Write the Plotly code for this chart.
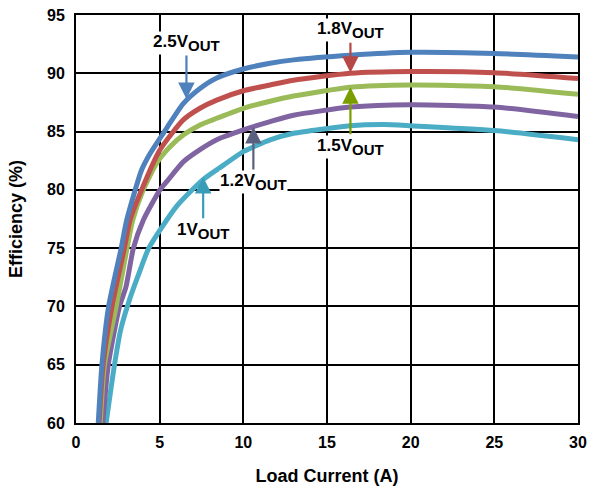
import plotly.graph_objects as go

# ---- data ----
x_25 = [1.33, 1.55, 1.95, 2.7, 3.03, 3.92, 4.42, 5.42, 6.41, 7.41, 8.41, 10, 11.6, 13, 16.4, 20, 25, 30]
y_25 = [60, 65, 70, 75, 77.4, 81.7, 83.1, 85.3, 87.4, 88.7, 89.6, 90.37, 90.86, 91.15, 91.55, 91.8, 91.7, 91.4]

x_18 = [1.38, 1.62, 2.15, 2.89, 3.23, 3.92, 5.0, 6.41, 7.41, 8.41, 10, 11.6, 13, 16.4, 20, 25, 30]
y_18 = [60, 65, 70, 75, 77.4, 80.0, 83.4, 86.0, 87.0, 87.7, 88.5, 89.0, 89.4, 90.0, 90.15, 90.05, 89.55]

x_15 = [1.45, 1.7, 2.4, 3.05, 3.39, 4.02, 4.82, 5.62, 6.41, 7.41, 8.41, 10, 11.6, 13, 16.4, 20, 25, 30]
y_15 = [60, 65, 70, 75, 77.4, 80.0, 82.3, 83.7, 84.7, 85.57, 86.14, 87.0, 87.6, 88.05, 88.8, 89.0, 88.85, 88.2]

x_12 = [1.6, 1.93, 2.6, 2.99, 3.43, 4.02, 5.02, 5.42, 6.41, 7.41, 8.41, 10, 11.6, 13, 16.4, 20, 25, 30]
y_12 = [60, 65, 70, 71.7, 75, 77.4, 80.0, 80.7, 82.4, 83.45, 84.3, 85.14, 85.85, 86.4, 87.1, 87.3, 87.1, 86.3]

x_10 = [1.8, 2.3, 2.67, 3.2, 3.83, 4.35, 6.02, 7.61, 8.8, 10, 11.6, 13, 16.4, 18.4, 20, 25, 30]
y_10 = [60, 65, 68.0, 70.6, 73.1, 75, 78.6, 80.9, 82.1, 83.28, 84.28, 84.85, 85.5, 85.6, 85.5, 85.1, 84.3]

x_ticks = [0, 5, 10, 15, 20, 25, 30]
y_ticks = [60, 65, 70, 75, 80, 85, 90, 95]

series = [
    ("1V", x_10, y_10, "#4bacc6"),
    ("1.2V", x_12, y_12, "#8064a2"),
    ("1.5V", x_15, y_15, "#9bbb59"),
    ("1.8V", x_18, y_18, "#c0504d"),
    ("2.5V", x_25, y_25, "#4f81bd"),
]

fig = go.Figure()
for name, xs, ys, col in series:
    fig.add_trace(go.Scatter(x=xs, y=ys, mode="lines", name=name,
                             line=dict(color=col, width=5, shape="spline", smoothing=0.6),
                             showlegend=False, hoverinfo="skip"))

FONT = "Liberation Sans, Arial, sans-serif"

def label(txt):
    return "<b>" + txt + "V<sub><span style='font-size:15px'>OUT</span></sub></b>"

# label text, arrow x, arrow head y, label centre y, arrow colour
callouts = [
    ("2.5", 6.6, 87.8, 92.6, "#4f81bd"),
    ("1.8", 16.4, 90.05, 93.7, "#b54846"),
    ("1.5", 16.4, 88.8, 83.7, "#7a9e00"),
    ("1.2", 10.6, 85.4, 80.68, "#5a5f80"),
    ("1", 7.6, 81.1, 76.5, "#3a9db8"),
]
for t, xa, hy, ly, col in callouts:
    fig.add_annotation(x=xa, y=hy, ax=xa, ay=ly, xref="x", yref="y",
                       axref="x", ayref="y", text=label(t), showarrow=True,
                       arrowhead=2, arrowsize=1.5, arrowwidth=2.2,
                       arrowcolor=col, standoff=0, startstandoff=1,
                       bgcolor="white", borderpad=0,
                       font=dict(family=FONT, size=17, color="black"))

axis_common = dict(showgrid=True, gridcolor="black", gridwidth=2,
                   showline=True, linecolor="black", linewidth=2, mirror=True,
                   zeroline=False, ticks="", automargin=False,
                   tickfont=dict(family=FONT, size=16, color="black"))

fig.update_xaxes(range=[0, 30], tickvals=x_ticks, ticktext=["<b>%d</b>" % v for v in x_ticks],
                 title=dict(text="<b>Load Current (A)</b>", font=dict(family=FONT, size=18, color="black"),
                            standoff=19),
                 ticklabelstandoff=4, **axis_common)
fig.update_yaxes(range=[60, 95], tickvals=y_ticks, ticktext=["<b>%d</b>" % v for v in y_ticks],
                 title=dict(text="<b>Efficiency (%)</b>", font=dict(family=FONT, size=18, color="black"),
                            standoff=20),
                 ticklabelstandoff=6, **axis_common)

fig.update_layout(width=589, height=489,
                  margin=dict(l=76, r=11, t=15, b=66),
                  plot_bgcolor="white", paper_bgcolor="white",
                  font=dict(family=FONT, color="black"))

fig.write_html("out.html", config={"displayModeBar": False},
               post_script="document.body.style.margin='0px';document.body.style.overflow='hidden';")
